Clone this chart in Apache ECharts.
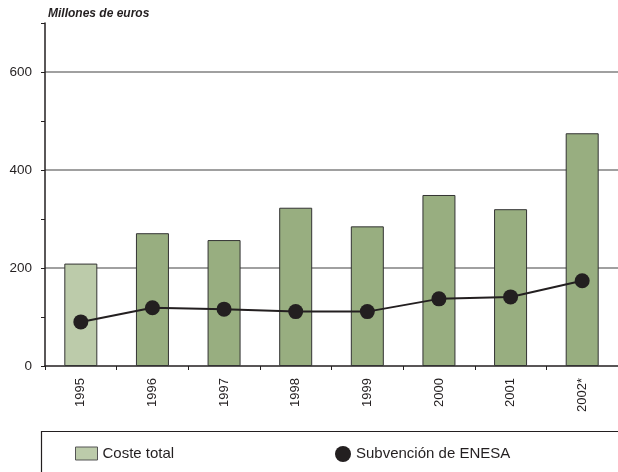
<!DOCTYPE html>
<html>
<head>
<meta charset="utf-8">
<script src="https://cdn.jsdelivr.net/npm/echarts@6/dist/echarts.min.js"></script>
<style>
  html, body { margin: 0; padding: 0; background: #fff; }
  #chart { width: 618px; height: 472px; }
</style>
</head>
<body>
<div id="chart"></div>
<script>
// datos
var years = ['1995', '1996', '1997', '1998', '1999', '2000', '2001', '2002*'];
var costeTotal = [209, 271, 257, 323, 285, 349, 320, 475];
var subvencionEnesa = [90, 119, 116, 111, 111, 137, 141, 174];
var yTicks = [0, 200, 400, 600];

var ink = '#231f20';
var font = 'Liberation Sans, Arial, sans-serif';

var myChart = echarts.init(document.getElementById('chart'), null, { renderer: 'canvas' });

// la primera barra va en verde claro
var barData = costeTotal.map(function (v, i) {
  if (i == 0) {
    return { value: v, itemStyle: { color: '#bccbaa' } };
  }
  return v;
});

var option = {
  backgroundColor: '#fff',
  animation: false,
  title: {
    text: 'Millones de euros',
    left: 48, top: 8, padding: 0,
    textStyle: { fontFamily: font, fontSize: 12, fontWeight: 'bold', fontStyle: 'italic', color: ink }
  },
  grid: { left: 45, top: 23, width: 576, height: 343 },
  xAxis: {
    type: 'category',
    data: years,
    boundaryGap: true,
    axisLine: { lineStyle: { color: ink, width: 1.5 } },
    axisTick: { show: true, length: 4, lineStyle: { color: ink } },
    axisLabel: { rotate: 90, margin: 12, fontFamily: font, fontSize: 13, color: ink }
  },
  yAxis: [{
    type: 'value',
    min: 0, max: 700, interval: 100,
    axisLine: { show: true, lineStyle: { color: ink, width: 1.5 } },
    axisTick: { show: true, length: 4, lineStyle: { color: ink } },
    axisLabel: {
      margin: 13, fontFamily: font, fontSize: 13.5, color: ink,
      formatter: function (v) { return yTicks.indexOf(v) >= 0 ? v : ''; }
    },
    splitLine: { show: false }
  }, {
    type: 'value',
    position: 'left',
    min: 0, max: 700, interval: 200,
    axisLine: { show: false },
    axisTick: { show: false },
    axisLabel: { show: false },
    splitLine: { show: true, showMinLine: false, showMaxLine: false, lineStyle: { color: '#808080', width: 1.5 } }
  }],
  legend: [{
    left: 70, top: 441,
    icon: 'rect', itemWidth: 22, itemHeight: 13,
    textStyle: { fontFamily: font, fontSize: 15, color: ink },
    data: [{ name: 'Coste total', itemStyle: { color: '#bccbaa', borderColor: '#555', borderWidth: 1 } }]
  }, {
    left: 330, top: 441,
    icon: 'circle', itemWidth: 16, itemHeight: 16,
    textStyle: { fontFamily: font, fontSize: 15, color: ink },
    data: [{ name: 'Subvención de ENESA', itemStyle: { color: ink } }]
  }],
  graphic: [{
    type: 'rect',
    shape: { x: 41.5, y: 431.5, width: 600, height: 60 },
    style: { fill: 'none', stroke: ink, lineWidth: 1.2 },
    silent: true
  }],
  series: [{
    name: 'Coste total',
    type: 'bar',
    data: barData,
    barWidth: 33,
    itemStyle: { color: '#98ae80', borderColor: '#333', borderWidth: 1 },
    z: 2
  }, {
    name: 'Subvención de ENESA',
    type: 'line',
    data: subvencionEnesa,
    symbol: 'circle',
    symbolSize: 15,
    lineStyle: { color: ink, width: 2 },
    itemStyle: { color: ink },
    z: 3
  }]
};

myChart.setOption(option);
</script>
</body>
</html>
